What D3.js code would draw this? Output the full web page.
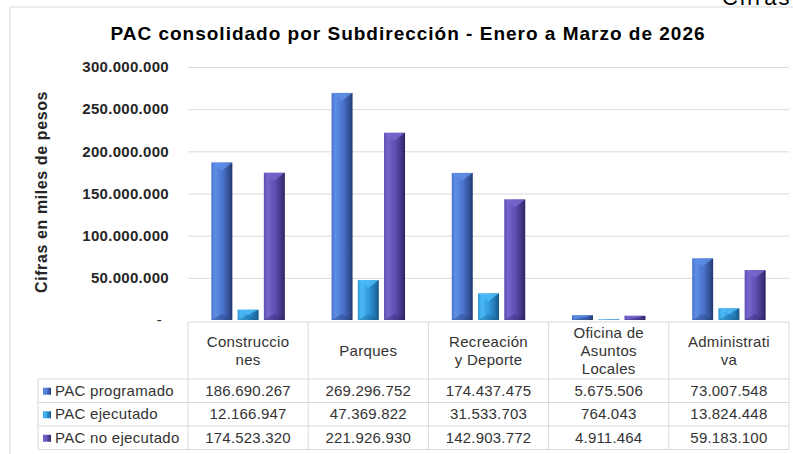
<!DOCTYPE html>
<html lang="es">
<head>
  <meta charset="UTF-8">
  <script src="https://cdnjs.cloudflare.com/ajax/libs/d3/7.8.5/d3.min.js"></script>
  <title>PAC consolidado</title>
  <style>
    body { margin: 0; background: #fff; }
    svg { font-family: "Liberation Sans", Arial, sans-serif; }
  </style>
</head>
<body>
  <div id="graph"></div>
  <script>
    // data
    let categories = ["Construcciones", "Parques", "Recreación y Deporte", "Oficina de Asuntos Locales", "Administrativa"];
    let categoryLines = [["Construccio", "nes"], ["Parques"], ["Recreación", "y Deporte"], ["Oficina de", "Asuntos", "Locales"], ["Administrati", "va"]];
    let seriesNames = ["PAC programado", "PAC ejecutado", "PAC no ejecutado"];
    let programado = [186690267, 269296752, 174437475, 5675506, 73007548];
    let ejecutado = [12166947, 47369822, 31533703, 764043, 13824448];
    let noEjecutado = [174523320, 221926930, 142903772, 4911464, 59183100];
    let yTicks = [0, 50000000, 100000000, 150000000, 200000000, 250000000, 300000000];

    let width = 793;
    let height = 454;

    // layout
    let plotLeft = 188, plotRight = 789;
    let plotTop = 67, plotBottom = 320;
    let tableTop = 322, headerBottom = 379, rowH = 23.5;
    let legendLeft = 38;

    let seriesValues = [programado, ejecutado, noEjecutado];
    let colors = [
      { light: "#5e8ee6", mid: "#4a72cc", dark: "#22386e" },
      { light: "#4cbaf7", mid: "#2e97da", dark: "#175685" },
      { light: "#7666cc", mid: "#5c4db0", dark: "#2b2360" }
    ];

    let es = d3.formatLocale({ decimal: ",", thousands: ".", grouping: [3], currency: ["$", ""] });
    let fmt = es.format(",d");

    let svg = d3.select("#graph").append("svg")
      .attr("width", width)
      .attr("height", height);

    // gradients for the cylinder look
    let defs = svg.append("defs");
    colors.forEach(function(c, i) {
      let g = defs.append("linearGradient").attr("id", "grad" + i)
        .attr("x1", "0%").attr("x2", "100%").attr("y1", "0%").attr("y2", "0%");
      g.append("stop").attr("offset", "0%").attr("stop-color", c.mid);
      g.append("stop").attr("offset", "18%").attr("stop-color", c.light);
      g.append("stop").attr("offset", "55%").attr("stop-color", c.mid);
      g.append("stop").attr("offset", "85%").attr("stop-color", d3.interpolateRgb(c.mid, c.dark)(0.6));
      g.append("stop").attr("offset", "100%").attr("stop-color", c.dark);
    });

    // chart frame
    svg.append("rect")
      .attr("x", 10).attr("y", 7)
      .attr("width", width).attr("height", height)
      .attr("fill", "none").attr("stroke", "#d9d9d9");

    // note at top right, cut by the page edge as in the source
    svg.append("text")
      .attr("x", 722).attr("y", 5)
      .attr("font-size", "22px")
      .attr("letter-spacing", "2px")
      .attr("fill", "#000")
      .text("Cifras");

    // title
    svg.append("text")
      .attr("x", 408).attr("y", 40)
      .attr("text-anchor", "middle")
      .attr("font-size", "19px")
      .attr("letter-spacing", "1px")
      .attr("font-weight", "bold")
      .attr("fill", "#000")
      .text("PAC consolidado por Subdirección - Enero a Marzo de 2026");

    // scales
    let x0 = d3.scaleBand().domain(categories).range([plotLeft, plotRight]);
    let x1 = d3.scaleBand().domain(seriesNames).range([0, x0.bandwidth()])
      .paddingInner(0.2).paddingOuter(0.89);
    let y = d3.scaleLinear().domain([0, 300000000]).range([plotBottom, plotTop]);

    // gridlines
    svg.append("g")
      .attr("transform", "translate(" + plotLeft + ",0)")
      .call(d3.axisLeft(y).tickValues(yTicks.slice(1)).tickSize(-(plotRight - plotLeft)).tickFormat(""))
      .call(function(g) {
        g.select(".domain").remove();
        g.selectAll("line").attr("stroke", "#d9d9d9");
      });

    // y labels
    svg.append("g")
      .attr("transform", "translate(169,0)")
      .call(d3.axisLeft(y).tickValues(yTicks).tickSize(0).tickPadding(0)
        .tickFormat(function(d) { return d === 0 ? "-" : fmt(d); }))
      .call(function(g) {
        g.select(".domain").remove();
        g.selectAll("text")
          .attr("font-family", "Liberation Sans, Arial, sans-serif")
          .attr("font-size", "15px")
          .attr("letter-spacing", "0.3px")
          .attr("font-weight", "bold")
          .attr("fill", "#262626");
        g.selectAll("text").filter(function(d) { return d === 0; })
          .attr("x", -7).attr("font-weight", "normal");
      });

    // y title
    svg.append("text")
      .attr("transform", "translate(47,192) rotate(-90)")
      .attr("text-anchor", "middle")
      .attr("font-size", "16px")
      .attr("letter-spacing", "0.6px")
      .attr("font-weight", "bold")
      .attr("fill", "#262626")
      .text("Cifras en miles de pesos");

    // bars
    let groups = svg.selectAll("g.cat")
      .data(categories)
      .enter()
      .append("g")
      .attr("class", "cat")
      .attr("transform", function(d) { return "translate(" + x0(d) + ",0)"; });

    let bars = groups.selectAll("g.bar")
      .data(function(d, ci) {
        return seriesNames.map(function(s, si) {
          return { series: s, si: si, value: seriesValues[si][ci] };
        });
      })
      .enter()
      .append("g")
      .attr("class", "bar");

    bars.append("rect")
      .attr("x", function(d) { return x1(d.series); })
      .attr("y", function(d) { return y(d.value); })
      .attr("width", x1.bandwidth())
      .attr("height", function(d) { return plotBottom - y(d.value); })
      .attr("fill", function(d) { return "url(#grad" + d.si + ")"; });

    // top bevel
    bars.append("path")
      .attr("d", function(d) {
        let bx = x1(d.series), by = y(d.value), w = x1.bandwidth();
        let h = Math.min(8, (plotBottom - by) / 2);
        return "M" + bx + "," + by + "L" + (bx + w) + "," + by +
          "L" + (bx + w * 0.72) + "," + (by + h * 0.55) +
          "L" + (bx + w / 2) + "," + (by + h) +
          "L" + (bx + w * 0.28) + "," + (by + h * 0.55) + "Z";
      })
      .attr("fill", function(d) { return colors[d.si].light; })
      .attr("opacity", 0.85);

    // bottom bevel
    bars.append("path")
      .attr("d", function(d) {
        let bx = x1(d.series), by = y(d.value), w = x1.bandwidth();
        let h = Math.min(6, (plotBottom - by) / 2);
        return "M" + bx + "," + plotBottom + "L" + (bx + w) + "," + plotBottom +
          "L" + (bx + w / 2) + "," + (plotBottom - h) + "Z";
      })
      .attr("fill", function(d) { return colors[d.si].dark; })
      .attr("opacity", 0.35);

    // data table
    let table = svg.append("g").attr("class", "table");
    let tableBottom = headerBottom + rowH * 3;
    let lineColor = "#d9d9d9";

    // header top line and column lines
    table.append("line")
      .attr("x1", plotLeft).attr("x2", plotRight)
      .attr("y1", tableTop).attr("y2", tableTop)
      .attr("stroke", lineColor);
    let colEdges = categories.map(function(c) { return x0(c); }).concat([plotRight]);
    table.selectAll("line.col")
      .data(colEdges)
      .enter().append("line")
      .attr("class", "col")
      .attr("x1", function(d) { return d; }).attr("x2", function(d) { return d; })
      .attr("y1", tableTop).attr("y2", tableBottom)
      .attr("stroke", lineColor);
    table.append("line")
      .attr("x1", legendLeft).attr("x2", legendLeft)
      .attr("y1", headerBottom).attr("y2", tableBottom)
      .attr("stroke", lineColor);
    table.selectAll("line.row")
      .data([0, 1, 2, 3])
      .enter().append("line")
      .attr("class", "row")
      .attr("x1", legendLeft).attr("x2", plotRight)
      .attr("y1", function(d) { return headerBottom + d * rowH; })
      .attr("y2", function(d) { return headerBottom + d * rowH; })
      .attr("stroke", lineColor);

    // category headers
    let headerMid = (tableTop + headerBottom) / 2;
    table.selectAll("text.cat")
      .data(categories)
      .enter().append("text")
      .attr("class", "cat")
      .attr("text-anchor", "middle")
      .attr("font-size", "15px")
      .attr("letter-spacing", "0.3px")
      .attr("fill", "#333")
      .each(function(d, i) {
        let lines = categoryLines[i];
        let t = d3.select(this);
        lines.forEach(function(l, k) {
          t.append("tspan")
            .attr("x", x0(d) + x0.bandwidth() / 2)
            .attr("y", headerMid + (k - (lines.length - 1) / 2) * 18 + 5)
            .text(l);
        });
      });

    // legend rows
    seriesNames.forEach(function(s, si) {
      let cy = headerBottom + rowH * si + rowH / 2;
      table.append("rect")
        .attr("x", 43).attr("y", cy - 3)
        .attr("width", 8).attr("height", 7)
        .attr("fill", "url(#grad" + si + ")");
      table.append("text")
        .attr("x", 55).attr("y", cy + 5)
        .attr("font-size", "15px")
        .attr("letter-spacing", "0.3px")
        .attr("fill", "#333")
        .text(s);
      table.selectAll("text.v" + si)
        .data(seriesValues[si])
        .enter().append("text")
        .attr("class", "v" + si)
        .attr("x", function(d, ci) { return x0(categories[ci]) + x0.bandwidth() / 2; })
        .attr("y", cy + 5)
        .attr("text-anchor", "middle")
        .attr("font-size", "15px")
        .attr("letter-spacing", "0.2px")
        .attr("fill", "#333")
        .text(function(d) { return fmt(d); });
    });
  </script>
</body>
</html>
